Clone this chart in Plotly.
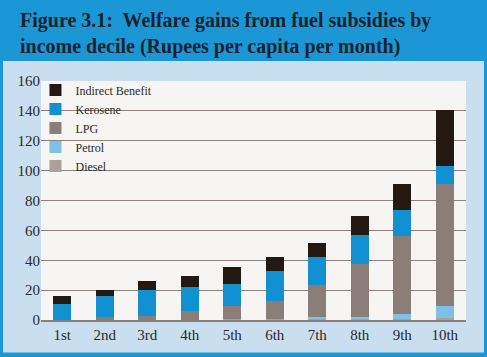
import plotly.graph_objects as go

deciles = ["1st", "2nd", "3rd", "4th", "5th", "6th", "7th", "8th", "9th", "10th"]
diesel = [0.3, 0.3, 0.3, 0.3, 0.4, 0.4, 0.4, 0.4, 0.5, 1.5]
petrol = [0.0, 0.0, 0.0, 0.0, 0.0, 0.0, 1.5, 1.6, 3.2, 8.2]
lpg = [0.0, 1.6, 2.2, 6.0, 9.3, 12.0, 21.8, 35.7, 52.7, 81.3]
kerosene = [10.1, 14.5, 17.4, 15.6, 14.2, 20.2, 18.3, 19.0, 17.4, 12.2]
indirect = [6.0, 4.0, 6.5, 7.8, 11.6, 9.6, 9.6, 13.1, 17.4, 37.4]
y_ticks = [0, 20, 40, 60, 80, 100, 120, 140, 160]

series = [
    ("Diesel", diesel, "#aaa19d"),
    ("Petrol", petrol, "#7fc1e6"),
    ("LPG", lpg, "#8b7e78"),
    ("Kerosene", kerosene, "#1190d2"),
    ("Indirect Benefit", indirect, "#241813"),
]

fig = go.Figure()
for name, vals, col in series:
    fig.add_trace(go.Bar(x=deciles, y=vals, name=name, marker=dict(color=col, line=dict(width=0))))

W, H = 487, 357
L, R, T, B = 41, 21, 81, 36.5
pw, ph = W - L - R, H - T - B

def px(x):
    return (x - L) / pw

def py(y):
    return (H - B - y) / ph

fig.update_layout(
    width=W, height=H,
    margin=dict(l=L, r=R, t=T, b=B),
    paper_bgcolor="#1b97d5",
    plot_bgcolor="#f7f5f3",
    barmode="stack",
    bargap=0.58,
    font=dict(family="Liberation Serif", color="#2a2a2a"),
    title=dict(
        text="<b>Figure 3.1:  Welfare gains from fuel subsidies by<br>income decile (Rupees per capita per month)</b>",
        xref="container", yref="container", x=20 / W, y=1 - 27 / H,
        xanchor="left", yanchor="middle",
        font=dict(family="Liberation Serif", size=20, color="#14232f"),
    ),
    legend=dict(
        x=-0.013, y=1.023, xanchor="left", yanchor="top",
        bgcolor="rgba(0,0,0,0)", traceorder="reversed",
        font=dict(family="Liberation Serif", size=12, color="#2a2a2a"),
    ),
    shapes=[
        dict(type="rect", xref="paper", yref="paper", layer="below",
             x0=px(3), x1=px(484), y0=py(353), y1=py(61),
             fillcolor="#c9dff0", line=dict(width=0)),
        dict(type="rect", xref="paper", yref="paper", layer="below",
             x0=0, x1=1, y0=0, y1=1,
             fillcolor="#f7f5f3", line=dict(width=0)),
    ],
    xaxis=dict(
        showline=True, linecolor="#8a7e79", linewidth=2,
        tickfont=dict(size=15, color="#2a2a2a"), ticks="",
        showgrid=False,
    ),
    yaxis=dict(
        range=[0, 160], tickvals=y_ticks,
        showgrid=True, gridcolor="#8c817c", gridwidth=1,
        zeroline=False,
        tickfont=dict(size=15, color="#2a2a2a"),
        ticks="",
    ),
)

fig.write_html("out.html", config={"displayModeBar": False},
               post_script="document.body.style.margin='0';")
